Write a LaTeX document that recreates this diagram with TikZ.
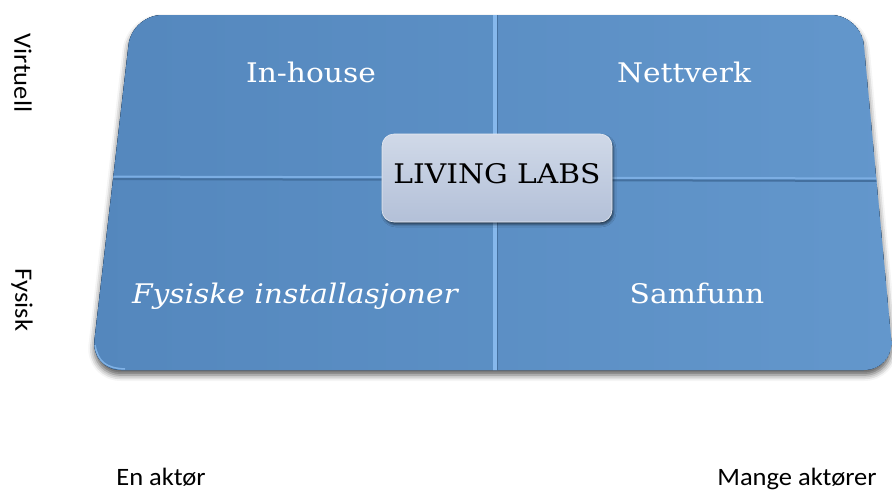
\documentclass[tikz,border=0pt]{standalone}
\usepackage{fontspec}
\usetikzlibrary{shadows.blur}
\newfontfamily\quadfont[FakeStretch=1.1]{DejaVu Serif}
\newfontfamily\axisfont[FakeStretch=1.06]{Carlito}

\definecolor{tileL}{HTML}{5487BD}
\definecolor{tileR}{HTML}{6397CC}
\definecolor{rimDark}{HTML}{3F6B9C}
\definecolor{rimLight}{HTML}{8CBDF0}
\definecolor{seamLight}{HTML}{86B8EC}
\definecolor{seamDark}{HTML}{44709F}
\definecolor{coreTop}{HTML}{D0D9E8}
\definecolor{coreBot}{HTML}{B3C0D8}

\tikzset{
  quadtext/.style={font=\quadfont\fontsize{27}{30}\selectfont, text=white, anchor=base, inner sep=0pt},
  axistext/.style={font=\axisfont\fontsize{25}{30}\selectfont, text=black, inner sep=0pt},
  labbox/.style={rounded corners=12pt, minimum width=230pt, minimum height=88pt,
    top color=coreTop, bottom color=coreBot, draw=white!70!coreBot, line width=0.6pt,
    text=black, font=\quadfont\fontsize{27}{30}\selectfont, text depth=9pt,
    blur shadow={shadow xshift=1.5pt, shadow yshift=-2.5pt, shadow blur radius=2.5pt, shadow opacity=60}},
}

\begin{document}
\begin{tikzpicture}[x=1pt,y=-1pt]
\useasboundingbox (0,0) rectangle (892,491);
\clip (0,0) rectangle (892,491);

% corners of the slanted board
\coordinate (tl) at (132,15);
\coordinate (tr) at (861,15);
\coordinate (br) at (894,370);
\coordinate (bl) at (91,370);

% board with its soft cast shadow
\fill[rounded corners=30pt, rimLight,
  blur shadow={shadow xshift=0pt, shadow yshift=-5pt, shadow blur radius=6pt, shadow opacity=65}]
  (tl) -- (tr) -- (br) -- (bl) -- cycle;

\begin{scope}
  \clip[rounded corners=30pt] (tl) -- (tr) -- (br) -- (bl) -- cycle;
  % dark lower rim, light right rim
  \fill[rounded corners=30pt, rimDark, shift={(-2.5pt,0pt)}]
    (tl) -- (tr) -- (br) -- (bl) -- cycle;
  \fill[rounded corners=30pt, left color=tileL, right color=tileR, shift={(-2.5pt,3pt)}]
    (tl) -- (tr) -- (br) -- (bl) -- cycle;

  % seams between the four quadrants
  \coordinate (vt) at (495,10);
  \coordinate (vb) at (495,372);
  \coordinate (hl) at (80,179);
  \coordinate (hr) at (900,181);
  \draw[seamLight, line width=4pt] (vt) -- (vb);
  \draw[seamDark, line width=0.9pt] ([xshift=2.6pt]vt) -- ([xshift=2.6pt]vb);
  \draw[seamLight!80!tileL, line width=2pt] ([yshift=2.5pt]hl) -- ([yshift=2.5pt]hr);
  \draw[seamDark, line width=2pt] (hl) -- (hr);
\end{scope}

% highlight on the lower left corner
\draw[rimLight, line width=1.5pt, opacity=0.8]
  (95,345) .. controls (98,362) and (106,368) .. (125,369);

% quadrant titles
\node[quadtext] (inhouse) at (311,82) {In-house};
\node[quadtext] (nett) at (684,82) {Nettverk};
\node[quadtext] (fys) at (295,303) {\itshape Fysiske installasjoner};
\node[quadtext] (samf) at (697,303) {Samfunn};

% central label
\node[labbox] (core) at (497,178) {LIVING LABS};

% axis labels
\node[axistext, rotate=-90] (virtuell) at (23,73) {Virtuell};
\node[axistext, rotate=-90] (fysisk) at (22,300) {Fysisk};
\node[axistext, anchor=base] (en) at (161,485) {En aktør};
\node[axistext, anchor=base] (mange) at (797,485) {Mange aktører};
\end{tikzpicture}
\end{document}
